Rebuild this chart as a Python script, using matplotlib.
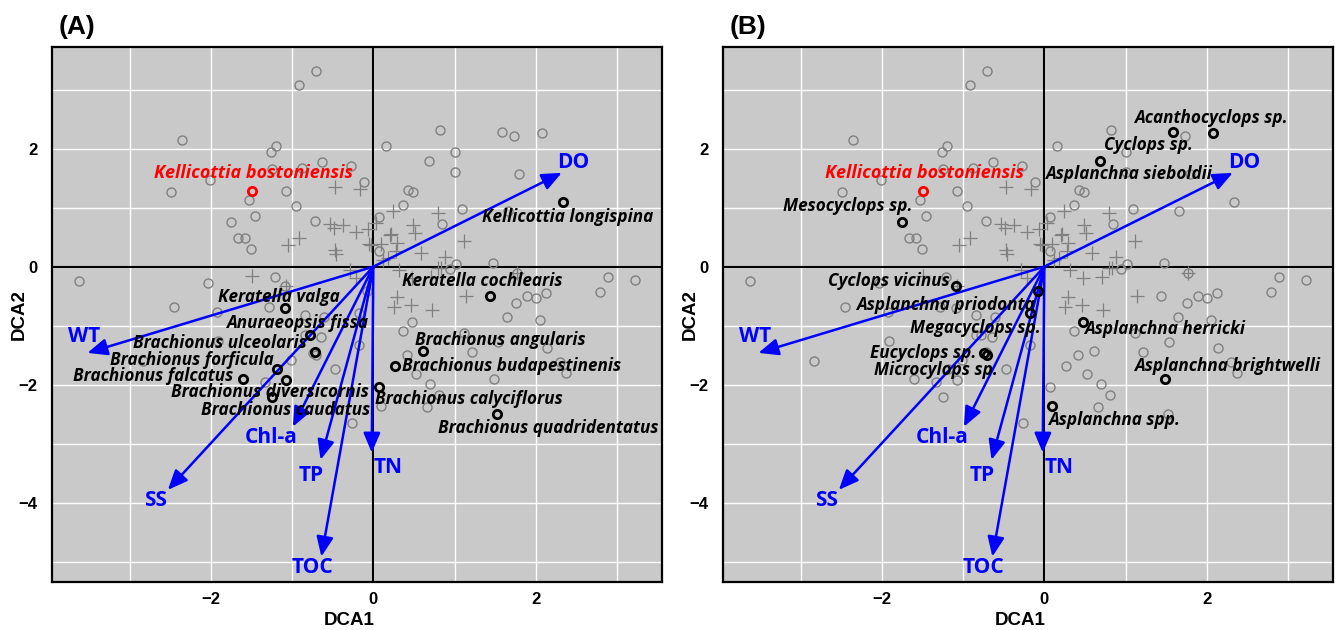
import matplotlib
matplotlib.use("Agg")
import matplotlib.pyplot as plt
from matplotlib.ticker import MultipleLocator, FuncFormatter

# ---------------- data ----------------
# site scores (grey crosses)
sites_x = [-0.47, -0.17, -0.53, -0.49, -0.37, -0.21, -0.06, 0.03, -0.92, -1.05,
           -0.47, -0.46, -0.05, -0.03, 0.10, 0.20, 0.29, 0.28, 0.24, 0.49,
           0.51, 0.79, 1.11, 0.59, 0.88, 0.18, 0.12, 0.31, -0.29, -0.21,
           0.79, 0.83, 1.77, 0.47, 0.71, 0.29, 0.46, 0.25, 0.72, 1.14,
           -1.49, -1.07, 0.22]
sites_y = [1.35, 1.31, 0.72, 0.65, 0.70, 0.59, 0.63, 0.74, 0.48, 0.37,
           0.28, 0.21, 0.39, 0.37, 0.39, 0.54, 0.40, 0.27, 0.94, 0.71,
           0.57, 0.91, 0.43, 0.23, 0.17, 0.15, 0.12, -0.05, -0.05, -0.19,
           -0.02, -0.03, -0.11, -0.20, -0.17, -0.51, -0.65, -0.68, -0.74, -0.49,
           -0.16, -0.33, 0.56]

# other species scores (grey circles in both panels)
other_x = [-0.70, -0.92, -2.36, -1.20, -1.26, -0.63, -1.25, -0.88, -0.27, -2.01,
           -0.11, -2.49, -1.08, -1.53, -0.95, -1.46, -0.72, -1.67, -1.58, -1.51,
           0.07, 0.07, -3.63, -2.03, -1.21,
           0.82, 1.73, 0.16, 1.01, 1.00, 1.79, 0.43, 0.49, 0.36, 1.09,
           0.85, 1.02, 0.94, 1.47, 1.77, 2.89, 3.22, 1.66,
           -2.45, -1.29, -1.92, -0.84, -0.61, -0.65, -0.84, -0.18, -0.47, -1.02,
           -1.33, -0.26, -1.91, -2.84,
           2.79, 2.12, 2.00, 1.89, 1.76, 1.64, 2.05, 0.37, 1.12, 1.53,
           1.21, 2.14, 0.42, 0.52, 2.30, 2.37, 0.70, 0.81, 0.66]
other_y = [3.31, 3.07, 2.14, 2.05, 1.95, 1.78, 1.65, 1.67, 1.70, 1.47,
           1.43, 1.26, 1.28, 1.13, 1.02, 0.86, 0.78, 0.48, 0.49, 0.30,
           0.84, 0.27, -0.24, -0.27, -0.18,
           2.32, 2.22, 2.04, 1.94, 1.61, 1.57, 1.30, 1.27, 1.04, 0.97,
           0.72, 0.05, -0.04, 0.07, -0.11, -0.18, -0.23, 0.94,
           -0.68, -0.68, -0.76, -0.82, -0.85, -1.19, -1.16, -1.33, -1.74, -1.58,
           -1.95, -2.65, -1.26, -1.60,
           -0.43, -0.44, -0.53, -0.49, -0.61, -0.86, -0.91, -1.09, -1.12, -1.28,
           -1.44, -1.37, -1.49, -1.82, -1.61, -1.80, -1.99, -2.18, -2.37]

# focus species (red)
focus_name = "Kellicottia bostoniensis"
focus_x = -1.49
focus_y = 1.28

# panel A highlighted species (rotifers)
a_names = ["Kellicottia longispina", "Keratella cochlearis", "Keratella valga",
           "Anuraeopsis fissa", "Brachionus ulceolaris", "Brachionus forficula",
           "Brachionus falcatus", "Brachionus diversicornis", "Brachionus caudatus",
           "Brachionus angularis", "Brachionus budapestinenis",
           "Brachionus calyciflorus", "Brachionus quadridentatus"]
a_x = [2.34, 1.44, -1.09, -0.78, -0.72, -1.19, -1.61, -1.07, -1.25, 0.61, 0.27, 0.07, 1.52]
a_y = [1.10, -0.49, -0.70, -1.16, -1.44, -1.74, -1.91, -1.92, -2.20, -1.43, -1.68, -2.04, -2.49]

# panel B highlighted species
b_names = ["Acanthocyclops sp.", "Cyclops sp.", "Asplanchna sieboldii",
           "Mesocyclops sp.", "Cyclops vicinus", "Asplanchna priodonta",
           "Megacyclops sp.", "Eucyclops sp.", "Microcylops sp.",
           "Asplanchna herricki", "Asplanchna brightwelli", "Asplanchna spp."]
b_x = [2.08, 1.58, 0.69, -1.75, -1.09, -0.08, -0.18, -0.74, -0.70, 0.47, 1.48, 0.09]
b_y = [2.26, 2.28, 1.79, 0.76, -0.32, -0.42, -0.78, -1.47, -1.50, -0.93, -1.90, -2.36]

# environmental vectors
env_names = ["DO", "WT", "SS", "Chl-a", "TP", "TOC", "TN"]
env_x = [2.32, -3.52, -2.53, -0.99, -0.65, -0.64, -0.02]
env_y = [1.59, -1.46, -3.78, -2.71, -3.27, -4.91, -3.15]

# ---------------- label placement (layout only) ----------------
env_label_pos = [(2.46, 1.77), (-3.56, -1.19), (-2.68, -3.96), (-1.26, -2.89),
                 (-0.77, -3.53), (-0.75, -5.09), (0.18, -3.40)]
# (x, baseline y, ha)
a_label_pos = [(1.34, 0.75, "left"), (0.35, -0.33, "left"), (-0.41, -0.59, "right"),
               (-0.06, -1.04, "right"), (-0.82, -1.38, "right"), (-1.23, -1.66, "right"),
               (-1.73, -1.93, "right"), (-0.06, -2.21, "right"), (-0.04, -2.52, "right"),
               (0.51, -1.32, "left"), (0.35, -1.76, "left"), (0.02, -2.32, "left"),
               (0.79, -2.82, "left")]
b_label_pos = [(1.11, 2.44, "left"), (0.73, 1.97, "left"), (0.01, 1.49, "left"),
               (-1.62, 0.94, "right"), (-1.17, -0.32, "right"), (-0.12, -0.73, "right"),
               (-0.04, -1.12, "right"), (-0.84, -1.54, "right"), (-0.57, -1.83, "right"),
               (0.49, -1.14, "left"), (1.11, -1.76, "left"), (0.04, -2.68, "left")]
focus_label_pos = (-1.48, 1.51)

XLIM = (-3.96, 3.55)
YLIM = (-5.34, 3.72)

BLUE = "#0000ff"
GREY = "#808080"
BG = "#c9c9c9"
SP_FONT = ["Open Sans", "DejaVu Sans"]
ENV_FONT = ["Open Sans", "DejaVu Sans"]
AX_FONT = ["Liberation Sans", "DejaVu Sans"]
SP_SIZE = 12.3
FOCUS_SIZE = 13.0

fig = plt.figure(figsize=(13.36, 6.30), dpi=100)
W, H = 1336, 630


def make_axes(left_px):
    return fig.add_axes([left_px / W, (H - 582) / H, 610 / W, 535 / H])


def tick_fmt(v, p):
    iv = int(round(v))
    if iv % 2 != 0:
        return ""
    return ("\u2212" + str(-iv)) if iv < 0 else str(iv)


def draw_panel(ax, hl_names, hl_x, hl_y, hl_pos, grey_x, grey_y, tag, tag_px):
    ax.set_facecolor(BG)
    ax.set_xlim(*XLIM)
    ax.set_ylim(*YLIM)
    ax.xaxis.set_major_locator(MultipleLocator(1))
    ax.yaxis.set_major_locator(MultipleLocator(1))
    ax.xaxis.set_major_formatter(FuncFormatter(tick_fmt))
    ax.yaxis.set_major_formatter(FuncFormatter(tick_fmt))
    ax.grid(True, color="white", lw=1.0, zorder=0)
    ax.set_axisbelow(True)
    ax.tick_params(axis="x", length=0, pad=7)
    ax.tick_params(axis="y", length=0, pad=10)
    for lab in ax.get_xticklabels() + ax.get_yticklabels():
        lab.set_fontfamily(AX_FONT)
        lab.set_fontweight("bold")
        lab.set_fontsize(12)
    for s in ax.spines.values():
        s.set_linewidth(1.6)
        s.set_color("black")
    ax.axhline(0, color="black", lw=1.5, zorder=1)
    ax.axvline(0, color="black", lw=1.5, zorder=1)

    # sites
    ax.plot(sites_x, sites_y, ls="none", marker="+", ms=10, mew=0.9,
            color=GREY, zorder=2)
    # grey species
    ax.plot(grey_x, grey_y, ls="none", marker="o", ms=6.5, mfc="none",
            mec=GREY, mew=1.0, zorder=2)

    # env arrows
    for name, ex, ey, (lx, ly) in zip(env_names, env_x, env_y, env_label_pos):
        ax.annotate("", xy=(ex, ey), xytext=(0, 0),
                    arrowprops=dict(arrowstyle="-|>,head_length=0.75,head_width=0.32",
                                    color=BLUE, lw=1.8, mutation_scale=16,
                                    shrinkA=0, shrinkB=0), zorder=4)
        ax.text(lx, ly, name, color=BLUE, fontsize=15, fontweight="bold",
                family=ENV_FONT, ha="center", va="center", zorder=5)

    # highlighted species
    ax.plot(hl_x, hl_y, ls="none", marker="o", ms=6, mfc="none",
            mec="black", mew=2.0, zorder=6)
    for name, (lx, ly, ha) in zip(hl_names, hl_pos):
        ax.text(lx, ly, name, fontsize=SP_SIZE, fontweight="bold", style="italic",
                family=SP_FONT, ha=ha, va="baseline", color="black", zorder=7)

    # focus species
    ax.plot([focus_x], [focus_y], ls="none", marker="o", ms=6, mfc="none",
            mec="red", mew=2.0, zorder=6)
    ax.text(focus_label_pos[0], focus_label_pos[1], focus_name, fontsize=FOCUS_SIZE,
            fontweight="bold", style="italic", family=SP_FONT, color="red",
            ha="center", va="baseline", zorder=7)

    ax.set_xlabel("DCA1", fontsize=13.5, fontweight="bold", family=AX_FONT)
    ax.xaxis.set_label_coords(0.487, -0.056)
    ax.xaxis.label.set_va("top")
    ax.set_ylabel("DCA2", fontsize=13.5, fontweight="bold", family=AX_FONT)
    ax.yaxis.set_label_coords(-0.040, 0.5)
    fig.text(tag_px / W, 1 - 27 / H, tag, fontsize=19, fontweight="bold",
             family=AX_FONT, ha="left", va="center")


axA = make_axes(51.7)
axB = make_axes(722.7)

draw_panel(axA, a_names, a_x, a_y, a_label_pos,
           other_x + b_x, other_y + b_y, "(A)", 59)
draw_panel(axB, b_names, b_x, b_y, b_label_pos,
           other_x + a_x, other_y + a_y, "(B)", 730)

fig.savefig("out.png", dpi=100, facecolor="white")
